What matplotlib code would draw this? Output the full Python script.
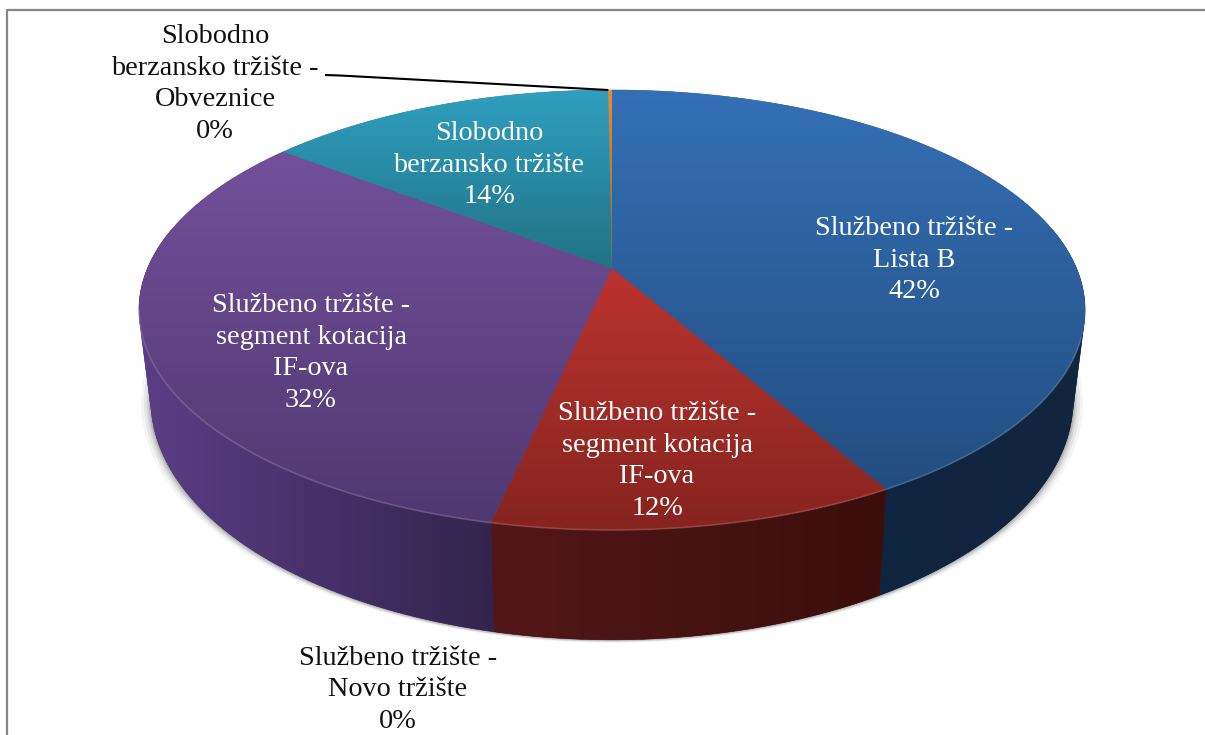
"""Tilted 3D pie of turnover share per market segment."""
import numpy as np
import matplotlib

matplotlib.use("Agg")
import matplotlib.pyplot as plt
from matplotlib.colors import LinearSegmentedColormap, to_rgb
from matplotlib.patches import Polygon

# raw shares, estimated from the slice edges (labels show them rounded)
segments = ["Lista B", "IF-ova", "Novo", "IF-ova 2", "Slobodno", "Obveznice"]
shares = [41.8, 11.6, 0.0, 32.1, 14.35, 0.15]
top_from = ["#3470b6", "#bb3330", "#bb3330", "#72509a", "#309fc0", "#f08a30"]
top_to = ["#234d80", "#86241f", "#86241f", "#4f3870", "#217284", "#7f7040"]
side_from = ["#0f2440", "#53171a", "#53171a", "#5b3e86", "#1d6070", "#7a4a10"]
side_to = ["#12263f", "#3b0e0b", "#3b0e0b", "#33244d", "#1d6070", "#7a4a10"]

label_text = [
    "Službeno tržište -\nLista B\n42%",
    "Službeno tržište -\nsegment kotacija\nIF-ova\n12%",
    "Službeno tržište -\nNovo tržište\n0%",
    "Službeno tržište -\nsegment kotacija\nIF-ova\n32%",
    "Slobodno\nberzansko tržište\n14%",
    "Slobodno\nberzansko tržište -\nObveznice\n0%",
]
label_x = [914, 657, 398, 311, 489, 215]
label_y = [260, 461, 690, 353, 165, 84]
label_color = ["white", "white", "#111111", "white", "white", "#111111"]

W, H = 1205, 735
CX, CY, RX, RY = 612, 310, 473, 220
TILT = 0.19  # moves the pie apex up, fakes the perspective
# floor of the pie relative to its top: a bit narrower, a bit deeper
FLOOR_SX, FLOOR_SY, FLOOR_Y = 0.975, 1.09, 400


def project(frac):
    """Fraction of the pie, clockwise from 12 o'clock, to picture pixels."""
    a = 2 * np.pi * np.asarray(frac)
    u, v = np.sin(a), np.cos(a)
    d = TILT * v + 1
    return CX + RX * u * np.sqrt(1 - TILT ** 2) / d, CY - RY * (v + TILT) / d


def floor(x, y):
    return CX + (x - CX) * FLOOR_SX, FLOOR_Y + (y - CY) * FLOOR_SY


def hull(pts):
    """Convex hull, monotone chain. Gives the straight silhouette of the wall."""
    pts = sorted(map(tuple, pts))

    def half(seq):
        out = []
        for p in seq:
            while len(out) > 1 and ((out[-1][0] - out[-2][0]) * (p[1] - out[-2][1])
                                    - (out[-1][1] - out[-2][1]) * (p[0] - out[-2][0])) <= 0:
                out.pop()
            out.append(p)
        return out[:-1]

    return np.array(half(pts) + half(pts[::-1]))


def gradient(ax, pts, z, c0, c1, vertical=True):
    # flat underlay so that the clipped image has no pale fringe
    mid = tuple((np.array(to_rgb(c0)) + np.array(to_rgb(c1))) / 2)
    ax.add_patch(Polygon(pts, closed=True, fc=mid, ec=mid, lw=0.4, zorder=z - 0.1))
    cmap = LinearSegmentedColormap.from_list("g", [c0, c1])
    x0, x1 = pts[:, 0].min(), pts[:, 0].max()
    y0, y1 = pts[:, 1].min(), pts[:, 1].max()
    g = np.linspace(0, 1, 256)
    g = g[:, None] if vertical else g[None, :]
    im = ax.imshow(g, cmap=cmap, extent=(x0, x1, y1, y0), aspect="auto",
                   vmin=0, vmax=1, zorder=z, interpolation="bilinear")
    clip = Polygon(pts, closed=True, fc="none", ec="none", zorder=z)
    ax.add_patch(clip)
    im.set_clip_path(clip)


fig = plt.figure(figsize=(W / 100, H / 100), dpi=100, facecolor="white")
ax = fig.add_axes([0, 0, 1, 1])
ax.set_xlim(0, W)
ax.set_ylim(H, 0)
ax.axis("off")

# chart frame, cut off by the picture on the right and at the bottom
ax.plot([7, 7, W + 5], [H + 5, 9.5, 9.5], color="#868686", lw=1.6, zorder=1)

edges = np.concatenate([[0], np.cumsum(shares)]) / sum(shares)

# soft shadow under the side wall
fx, fy = floor(*project(np.linspace(0, 1, 400)))
for grow, off, alpha in [(10, 3, 0.05), (7, 2, 0.08), (4, 2, 0.12), (2, 1, 0.18)]:
    ax.fill(CX + (fx - CX) * (1 + grow / 461), fy + off, color="#404040",
            alpha=alpha, lw=0, zorder=1.5)

# side wall, only the slices that reach the front; the red one goes on last
for i in [0, 3, 1]:
    lo, hi = max(edges[i], 0.22), min(edges[i + 1], 0.78)
    x, y = project(np.linspace(lo, hi, 200))
    bx, by = floor(x, y)
    pts = hull(np.vstack([np.c_[x, y], np.c_[bx, by]]))
    gradient(ax, pts, 2, side_from[i], side_to[i], vertical=False)

# top surface
apex = (CX, CY - RY * TILT)
for i in range(len(shares)):
    if shares[i] == 0:
        continue
    x, y = project(np.linspace(edges[i], edges[i + 1], 300))
    pts = np.vstack([[apex], np.c_[x, y]])
    gradient(ax, pts, 3, top_from[i], top_to[i])

# light rim along the front edge of the top
x, y = project(np.linspace(0.3, 0.72, 400))
ax.plot(x, y, color="white", alpha=0.14, lw=1.3, zorder=4)

# leader for the 0% slice
lx, ly = project(edges[-2])
ax.plot([325, 340, lx], [75, 75.5, ly], color="black", lw=1.5, zorder=5, solid_capstyle="butt")

for txt, x, y, c in zip(label_text, label_x, label_y, label_color):
    ax.text(x, y, txt, color=c, ha="center", va="center", family="Liberation Serif",
            fontsize=20.3, linespacing=1.34, zorder=6)

fig.savefig("out.png", dpi=100)
